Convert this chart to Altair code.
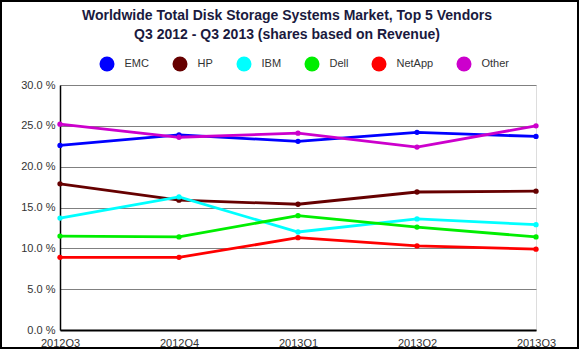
import altair as alt
import pandas as pd

quarters = ["2012Q3", "2012Q4", "2013Q1", "2013Q2", "2013Q3"]
vendors = ["EMC", "HP", "IBM", "Dell", "NetApp", "Other"]
colors = ["#0000ff", "#660000", "#00ffff", "#00ee00", "#ff0000", "#cc00cc"]

emc = [22.6, 23.9, 23.1, 24.2, 23.7]
hp = [17.9, 15.9, 15.4, 16.9, 17.0]
ibm = [13.7, 16.3, 12.0, 13.6, 12.9]
dell = [11.5, 11.4, 14.0, 12.6, 11.4]
netapp = [8.9, 8.9, 11.3, 10.3, 9.9]
other = [25.2, 23.6, 24.1, 22.4, 25.0]

series = [emc, hp, ibm, dell, netapp, other]
rows = []
for v, vals in zip(vendors, series):
    for q, s in zip(quarters, vals):
        rows.append({"quarter": q, "vendor": v, "share": s})
df = pd.DataFrame(rows)

FONT = "Liberation Sans"

x = alt.X("quarter:N", sort=quarters, scale=alt.Scale(type="point", padding=0),
          axis=alt.Axis(title=None, labelAngle=0, ticks=False, grid=False,
                        domainColor="#000000", domainWidth=2, labelPadding=7,
                        labelFontSize=11, labelFont=FONT, labelColor="#333333"))
y = alt.Y("share:Q", scale=alt.Scale(domain=[0, 30], nice=False),
          axis=alt.Axis(title=None, values=[0, 5, 10, 15, 20, 25, 30], ticks=False,
                        labelExpr="format(datum.value, '.1f') + ' %'",
                        domainColor="#000000", domainWidth=1.5, labelPadding=5,
                        gridColor="#808080", gridWidth=1,
                        labelFontSize=11, labelFont=FONT, labelColor="#333333"))
color_scale = alt.Scale(domain=vendors, range=colors)

pts = alt.Chart(df).mark_circle(size=0.01, opacity=1).encode(
    x=x, y=y,
    color=alt.Color("vendor:N", scale=color_scale, sort=vendors,
                    legend=alt.Legend(orient="none", legendX=39.5, legendY=-28.5,
                                      direction="horizontal", columns=6, title=None,
                                      symbolType="circle", symbolSize=225, symbolStrokeWidth=0,
                                      symbolOpacity=1,
                                      labelFontSize=11, labelFont=FONT, labelColor="#333333",
                                      labelOffset=10, columnPadding=23, padding=0)),
)

lines = alt.Chart(df).mark_line(strokeWidth=2.8, point=alt.OverlayMarkDef(filled=True, size=28)).encode(
    x=x, y=y,
    color=alt.Color("vendor:N", scale=color_scale, sort=vendors),
    detail="vendor:N",
)

frame = alt.Chart(pd.DataFrame({"a": [0]})).mark_rect(fill="transparent", stroke="#000000", strokeWidth=2).encode(
    x=alt.value(-59), x2=alt.value(518), y=alt.value(-84), y2=alt.value(263)
)

chart = alt.layer(pts, lines, frame).properties(
    width=476, height=245,
    padding={"left": 60, "top": 85, "right": 44, "bottom": 20},
    autosize=alt.AutoSizeParams(type="none"),
    title=alt.Title(["Worldwide Total Disk Storage Systems Market, Top 5 Vendors",
                     "Q3 2012 - Q3 2013 (shares based on Revenue)"],
                    font=FONT, fontSize=14, fontWeight="bold", color="#1a1a3e",
                    anchor="middle", frame="group", dx=-11, lineHeight=19, offset=-42),
).configure_view(stroke=None).configure(background="white")

chart.save("out.html", embed_options={"renderer": "svg", "actions": False})
